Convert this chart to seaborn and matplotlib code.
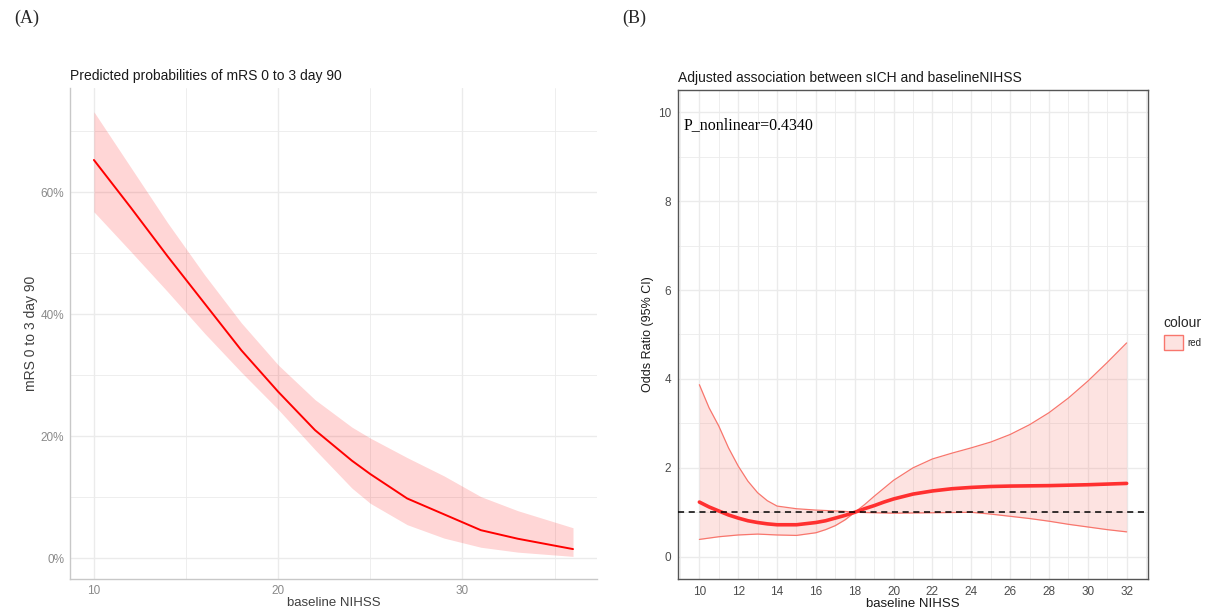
import numpy as np
import pandas as pd
import matplotlib
matplotlib.use("Agg")
import matplotlib.pyplot as plt
import seaborn as sns
from matplotlib.ticker import FuncFormatter, MultipleLocator
from matplotlib.patches import Patch

# panel A: predicted probability of mRS 0-3 at day 90
nihss_a = [10, 12, 14, 16, 18, 20, 22, 24, 25, 27, 29, 31, 33, 36]
prob_fit = [65.3, 57.5, 49.5, 41.8, 34.1, 27.3, 21.0, 16.0, 13.8, 9.8, 7.2, 4.6, 3.2, 1.5]
prob_hi = [73.2, 64.1, 55.0, 46.5, 38.6, 31.7, 26.0, 21.5, 19.7, 16.5, 13.5, 10.1, 7.8, 5.0]
prob_lo = [56.8, 50.3, 43.7, 36.9, 30.5, 24.4, 17.8, 11.5, 9.0, 5.5, 3.3, 1.8, 1.0, 0.3]

# panel B: odds ratio of sICH vs baseline NIHSS (RCS)
nihss_b = [10, 10.5, 11, 11.5, 12, 12.5, 13, 13.5, 14, 15, 16, 16.5, 17, 17.5, 18, 18.5, 19, 19.5,
           20, 21, 22, 23, 24, 25, 26, 27, 28, 29, 30, 31, 32]
or_fit = [1.23, 1.12, 1.03, 0.94, 0.87, 0.81, 0.77, 0.74, 0.72, 0.72, 0.77, 0.81, 0.87, 0.93, 1.0, 1.08, 1.15, 1.23,
          1.30, 1.41, 1.48, 1.53, 1.56, 1.58, 1.59, 1.595, 1.60, 1.61, 1.62, 1.635, 1.65]
or_hi = [3.87, 3.35, 2.94, 2.45, 2.04, 1.70, 1.44, 1.26, 1.14, 1.08, 1.05, 1.04, 1.03, 1.02, 1.0, 1.17, 1.36, 1.54,
         1.72, 2.0, 2.20, 2.33, 2.45, 2.58, 2.75, 2.97, 3.24, 3.57, 3.95, 4.37, 4.81]
or_lo = [0.39, 0.42, 0.45, 0.47, 0.49, 0.50, 0.51, 0.50, 0.49, 0.48, 0.54, 0.61, 0.70, 0.83, 1.0, 0.995, 0.99, 0.985,
         0.98, 0.985, 0.99, 0.995, 1.0, 0.96, 0.91, 0.86, 0.80, 0.73, 0.67, 0.61, 0.56]

df_a = pd.DataFrame({"nihss": nihss_a, "fit": prob_fit, "hi": prob_hi, "lo": prob_lo})
df_b = pd.DataFrame({"nihss": nihss_b, "fit": or_fit, "hi": or_hi, "lo": or_lo})

sns.set_style("white")
plt.rcParams["font.family"] = ["Liberation Sans", "DejaVu Sans"]

fig = plt.figure(figsize=(12.06, 6.09), dpi=100)
ax1 = fig.add_axes([0.058, 0.0493, 0.437, 0.8062])
ax2 = fig.add_axes([0.5622, 0.0493, 0.3897, 0.8029])

grid_col = "#EBEBEB"

# ---- panel A (minimal theme) ----
ax1.fill_between(df_a["nihss"], df_a["lo"], df_a["hi"], color="#FF0000", alpha=0.16, linewidth=0, zorder=2)
sns.lineplot(data=df_a, x="nihss", y="fit", color="#FF0000", linewidth=1.4, ax=ax1, zorder=3)
ax1.set_xlim(8.7, 37.3)
ax1.set_ylim(-3.4, 77.1)
ax1.xaxis.set_major_locator(MultipleLocator(10))
ax1.xaxis.set_minor_locator(MultipleLocator(5))
ax1.yaxis.set_major_locator(MultipleLocator(20))
ax1.yaxis.set_minor_locator(MultipleLocator(10))
ax1.yaxis.set_major_formatter(FuncFormatter(lambda v, p: f"{v:.0f}%"))
ax1.grid(which="major", color=grid_col, linewidth=1.0, zorder=0)
ax1.grid(which="minor", color=grid_col, linewidth=0.6, zorder=0)
ax1.set_axisbelow(True)
for s in ["top", "right"]:
    ax1.spines[s].set_visible(False)
for s in ["left", "bottom"]:
    ax1.spines[s].set_color("#C8C8C8")
    ax1.spines[s].set_linewidth(1.0)
ax1.tick_params(axis="both", which="both", length=0, labelsize=8.5, labelcolor="#8A8A8A", pad=4)
ax1.set_xlabel("baseline NIHSS", fontsize=9.5, color="#404040", labelpad=0)
ax1.set_ylabel("mRS 0 to 3 day 90", fontsize=10, color="#404040", labelpad=2)
ax1.set_title("Predicted probabilities of mRS 0 to 3 day 90", loc="left", fontsize=10, color="#1A1A1A", pad=6)

# ---- panel B (bw theme) ----
red_soft = "#F8766D"
ax2.fill_between(df_b["nihss"], df_b["lo"], df_b["hi"], color=red_soft, alpha=0.2, linewidth=0, zorder=2)
sns.lineplot(data=df_b, x="nihss", y="hi", color=red_soft, linewidth=0.9, ax=ax2, zorder=3)
sns.lineplot(data=df_b, x="nihss", y="lo", color=red_soft, linewidth=0.9, ax=ax2, zorder=3)
sns.lineplot(data=df_b, x="nihss", y="fit", color="#FF3030", linewidth=2.6, ax=ax2, zorder=4)
ax2.axhline(1, color="black", linestyle=(0, (4, 3)), linewidth=1.1, zorder=5)
ax2.set_xlim(8.9, 33.1)
ax2.set_ylim(-0.5, 10.5)
ax2.xaxis.set_major_locator(MultipleLocator(2))
ax2.xaxis.set_minor_locator(MultipleLocator(1))
ax2.yaxis.set_major_locator(MultipleLocator(2))
ax2.yaxis.set_minor_locator(MultipleLocator(1))
ax2.grid(which="major", color=grid_col, linewidth=1.0, zorder=0)
ax2.grid(which="minor", color=grid_col, linewidth=0.6, zorder=0)
ax2.set_axisbelow(True)
for s in ax2.spines.values():
    s.set_color("#555555")
    s.set_linewidth(1.0)
ax2.tick_params(axis="both", which="major", length=3, width=0.8, color="#333333",
                labelsize=8.5, labelcolor="#4D4D4D", pad=2)
ax2.tick_params(axis="both", which="minor", length=0)
ax2.set_xlabel("baseline NIHSS", fontsize=9.5, color="#1A1A1A", labelpad=0)
ax2.set_ylabel("Odds Ratio (95% CI)", fontsize=9, color="#1A1A1A", labelpad=3)
ax2.set_title("Adjusted association between sICH and baselineNIHSS", loc="left", fontsize=10,
              color="#1A1A1A", pad=6)
ax2.text(0.011, 0.928, "P_nonlinear=0.4340", transform=ax2.transAxes, fontsize=11.5,
         family=["Liberation Serif", "DejaVu Serif"], ha="left", va="center", color="black")

handle = Patch(facecolor=(0.973, 0.463, 0.427, 0.2), edgecolor=red_soft, linewidth=1.0, label="red")
leg = ax2.legend(handles=[handle], title="colour", loc="upper left", bbox_to_anchor=(1.025, 0.545),
                 frameon=False, fontsize=7, title_fontsize=10, handlelength=1.95, handleheight=1.95,
                 handletextpad=0.5, borderaxespad=0)
leg._legend_box.align = "left"

# panel letters
fig.text(0.012, 0.97, "(A)", fontsize=13, family=["Liberation Serif", "DejaVu Serif"], va="center")
fig.text(0.516, 0.97, "(B)", fontsize=13, family=["Liberation Serif", "DejaVu Serif"], va="center")

fig.savefig("out.png", dpi=100)
